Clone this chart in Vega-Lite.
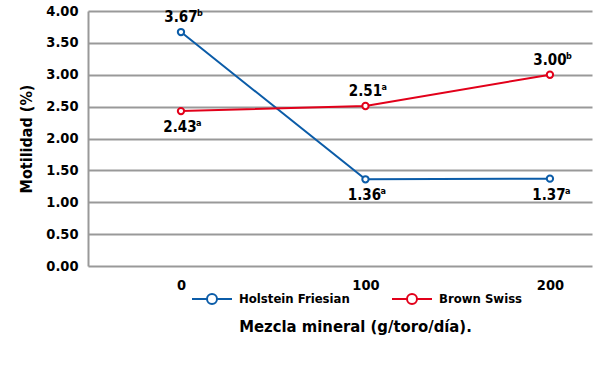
{
  "$schema": "https://vega.github.io/schema/vega-lite/v6.json",
  "width": 504,
  "height": 255,
  "autosize": "none",
  "padding": {"left": 88, "top": 11, "right": 8, "bottom": 120},
  "background": "white",
  "config": {
    "font": "'Liberation Sans Narrow', 'DejaVu Sans Condensed', 'Liberation Sans', sans-serif",
    "view": {"stroke": null}
  },
  "data": {
    "values": [
      {"breed": "Holstein Friesian", "dose": 0, "motility": 3.67, "sig": "b"},
      {"breed": "Holstein Friesian", "dose": 100, "motility": 1.36, "sig": "a"},
      {"breed": "Holstein Friesian", "dose": 200, "motility": 1.37, "sig": "a"},
      {"breed": "Brown Swiss", "dose": 0, "motility": 2.43, "sig": "a"},
      {"breed": "Brown Swiss", "dose": 100, "motility": 2.51, "sig": "a"},
      {"breed": "Brown Swiss", "dose": 200, "motility": 3.00, "sig": "b"}
    ]
  },
  "encoding": {
    "x": {
      "field": "dose", "type": "quantitative",
      "scale": {"domain": [-50.4, 222.8], "nice": false, "zero": false},
      "axis": {
        "values": [0, 100, 200], "grid": false, "domain": false, "ticks": false,
        "labelFontSize": 14.5, "labelFontWeight": "bold", "labelColor": "black", "labelPadding": 12,
        "title": "Mezcla mineral (g/toro/día).", "titleFontSize": 16.5, "titleFontWeight": "bold",
        "titleColor": "black", "titlePadding": 27, "titleX": 267, "titleAlign": "center"
      }
    },
    "y": {
      "field": "motility", "type": "quantitative",
      "scale": {"domain": [0, 4], "nice": false},
      "axis": {
        "values": [0, 0.5, 1, 1.5, 2, 2.5, 3, 3.5, 4], "format": ".2f",
        "grid": true, "gridColor": "#999999", "gridWidth": 2, "gridOpacity": 1,
        "domain": true, "domainColor": "#999999", "domainWidth": 2,
        "ticks": false, "labelPadding": 10,
        "labelFontSize": 14.5, "labelFontWeight": "bold", "labelColor": "black",
        "title": "Motilidad (%)", "titleFontSize": 16, "titleFontWeight": "bold",
        "titleColor": "black", "titlePadding": 11
      }
    }
  },
  "layer": [
    {
      "mark": {"type": "line", "strokeWidth": 2},
      "encoding": {
        "color": {
          "field": "breed", "type": "nominal",
          "scale": {"domain": ["Holstein Friesian", "Brown Swiss"], "range": ["#0b5ca8", "#e2001a"]},
          "legend": {
            "title": null, "orient": "none", "direction": "horizontal",
            "legendX": 103, "legendY": 267, "padding": 0,
            "symbolType": "M-1,0H-0.25M0.25,0H1M0.25,0A0.25,0.25,0,1,1,-0.25,0A0.25,0.25,0,1,1,0.25,0",
            "symbolSize": 1600, "symbolStrokeWidth": 2, "symbolFillColor": "white",
            "labelFontSize": 13, "labelFontWeight": "bold", "labelColor": "black",
            "labelOffset": 6, "columnPadding": 38
          }
        }
      }
    },
    {
      "mark": {"type": "point", "shape": "circle", "filled": true, "fill": "white", "size": 40, "strokeWidth": 2, "opacity": 1},
      "encoding": {
        "stroke": {
          "field": "breed", "type": "nominal",
          "scale": {"domain": ["Holstein Friesian", "Brown Swiss"], "range": ["#0b5ca8", "#e2001a"]},
          "legend": null
        }
      }
    },
    {
      "transform": [{"filter": "(datum.breed == 'Holstein Friesian' && datum.dose == 0) || (datum.breed == 'Brown Swiss' && datum.dose > 0)"}],
      "layer": [
        {
          "mark": {"type": "text", "fontSize": 15, "fontWeight": "bold", "color": "black", "dy": -15, "dx": 0},
          "encoding": {"text": {"field": "motility", "type": "quantitative", "format": ".2f"}}
        },
        {
          "mark": {"type": "text", "fontSize": 9, "fontWeight": "bold", "color": "black", "dy": -19, "dx": 16, "align": "left"},
          "encoding": {"text": {"field": "sig"}}
        }
      ]
    },
    {
      "transform": [{"filter": "!((datum.breed == 'Holstein Friesian' && datum.dose == 0) || (datum.breed == 'Brown Swiss' && datum.dose > 0))"}],
      "layer": [
        {
          "mark": {"type": "text", "fontSize": 15, "fontWeight": "bold", "color": "black", "dy": 16, "dx": -1},
          "encoding": {"text": {"field": "motility", "type": "quantitative", "format": ".2f"}}
        },
        {
          "mark": {"type": "text", "fontSize": 9, "fontWeight": "bold", "color": "black", "dy": 12, "dx": 15, "align": "left"},
          "encoding": {"text": {"field": "sig"}}
        }
      ]
    }
  ]
}
